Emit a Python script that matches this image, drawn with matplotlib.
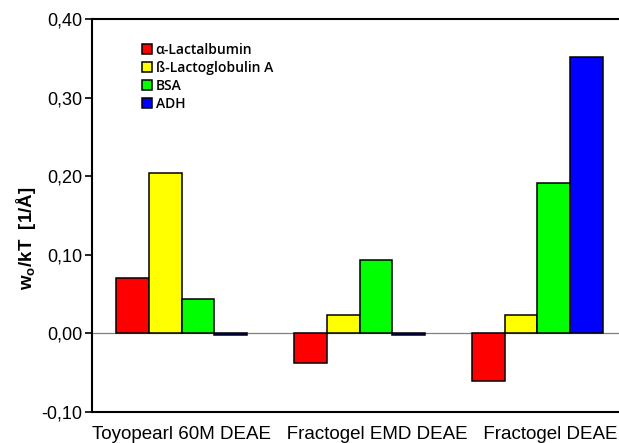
import numpy as np
import matplotlib
matplotlib.use('Agg')
import matplotlib.pyplot as plt
from matplotlib.ticker import FuncFormatter

groups = ['Toyopearl 60M DEAE', 'Fractogel EMD DEAE', 'Fractogel DEAE']
proteins = ['\u03b1-Lactalbumin', '\u00df-Lactoglobulin A', 'BSA', 'ADH']
colors = ['#ff0000', '#ffff00', '#00ff00', '#0000ff']

lactalbumin = [0.070, -0.037, -0.061]
lactoglobulin = [0.204, 0.024, 0.024]
bsa = [0.044, 0.094, 0.191]
adh = [-0.002, -0.002, 0.352]
series = [lactalbumin, lactoglobulin, bsa, adh]

plt.rcParams['font.family'] = ['Liberation Sans', 'DejaVu Sans']
plt.rcParams['mathtext.fontset'] = 'custom'
plt.rcParams['mathtext.bf'] = 'Liberation Sans:bold'
plt.rcParams['mathtext.rm'] = 'Liberation Sans'

fig = plt.figure(figsize=(6.19, 4.43), dpi=100)
ax = fig.add_axes([92/619, 1-412/443, 1-92/619, (412-19.3)/443])

x = np.arange(len(groups))
w = 0.184
for i, vals in enumerate(series):
    ax.bar(x + (i - 1.5)*w, vals, w, color=colors[i], edgecolor='black',
           linewidth=1.1, label=proteins[i], zorder=3)

ax.axhline(0, color='#808080', linewidth=0.9, zorder=2)

ax.set_xlim(-0.503, 2.458)
ax.set_ylim(-0.10, 0.40)
ax.set_yticks([-0.10, 0.0, 0.10, 0.20, 0.30, 0.40])
ax.yaxis.set_major_formatter(FuncFormatter(lambda v, p: ('%.2f' % v).replace('.', ',')))
ax.set_xticks([])
ax.tick_params(axis='y', labelsize=13, length=5, width=1.2, direction='out', pad=2)

# group names written as one line under the axis, like the original
ax.text(0.0, -0.035, '   '.join(groups), transform=ax.transAxes,
        ha='left', va='top', fontsize=13.5)

ax.spines['right'].set_visible(False)
for s in ['left', 'top', 'bottom']:
    ax.spines[s].set_linewidth(1.5)

ax.set_ylabel(r'w$_\mathbf{o}$/kT  [1/Å]', fontsize=13.5, fontweight='bold')
ax.yaxis.set_label_coords(-0.102, 0.443)

leg = ax.legend(loc='upper left', bbox_to_anchor=(0.084, 0.955), frameon=False,
                handlelength=0.7, handleheight=0.7, handletextpad=0.3,
                labelspacing=0.3, borderaxespad=0,
                prop={'family': 'Open Sans', 'weight': 'semibold', 'size': 10})

fig.savefig('out.png', dpi=100)
